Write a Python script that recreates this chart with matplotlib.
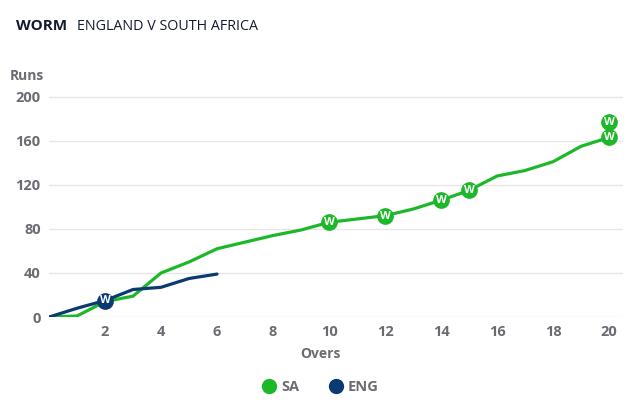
import numpy as np
import matplotlib.pyplot as plt
from matplotlib.lines import Line2D

plt.rcParams['font.family'] = ['Open Sans', 'DejaVu Sans']

overs_sa = list(range(0, 21))
runs_sa = [0, 1, 14, 19, 40, 50, 62, 68, 74, 79, 86, 89, 92, 98, 106, 115, 128, 133, 141, 155, 163]
overs_eng = [0, 1, 2, 3, 4, 5, 6]
runs_eng = [0, 8, 15, 25, 27, 35, 39]

wkt_sa_overs = [10, 12, 14, 15, 20, 20]
wkt_sa_runs = [86, 92, 106, 115, 163, 177]
wkt_eng_overs = [2]
wkt_eng_runs = [15]

green = '#1db82a'
navy = '#0b3a73'
grey = '#6b6b73'

fig = plt.figure(figsize=(6.4, 4.07), dpi=100)
ax = fig.add_axes([0.0766, 0.221, 0.897, 0.555])

ax.plot(overs_sa, runs_sa, color=green, lw=2.3, solid_capstyle='round', zorder=3)
ax.plot(overs_eng, runs_eng, color=navy, lw=2.3, solid_capstyle='round', zorder=4)

for xs, ys, c in [(wkt_sa_overs, wkt_sa_runs, green), (wkt_eng_overs, wkt_eng_runs, navy)]:
    ax.scatter(xs, ys, s=145, color=c, linewidth=0, zorder=5, clip_on=False)
    for x, y in zip(xs, ys):
        ax.text(x, y - 0.3, 'W', color='white', fontsize=8, fontweight='bold',
                ha='center', va='center', zorder=6)

ax.set_xlim(0, 20.5)
ax.set_ylim(0, 205)
ax.set_xticks([2, 4, 6, 8, 10, 12, 14, 16, 18, 20])
ax.set_yticks([0, 40, 80, 120, 160, 200])
ax.grid(axis='y', color='#e6e6e9', lw=1)
ax.set_axisbelow(True)
for s in ax.spines.values():
    s.set_visible(False)
ax.tick_params(length=0, labelsize=10.5, labelcolor=grey, pad=6)
for lbl in ax.get_xticklabels() + ax.get_yticklabels():
    lbl.set_fontweight('bold')

fig.text(320 / 640, 1 - 354 / 407, 'Overs', ha='center', va='center', fontsize=10,
         fontweight='bold', color=grey)
fig.text(27 / 640, 1 - 76 / 407, 'Runs', ha='center', va='center', fontsize=10,
         fontweight='bold', color=grey)

fig.text(16 / 640, 1 - 26 / 407, 'WORM', ha='left', va='center', fontsize=11,
         fontweight='bold', color='#141a2e')
fig.text(77 / 640, 1 - 26 / 407, 'ENGLAND V SOUTH AFRICA', ha='left', va='center',
         fontsize=10.3, color='#141a2e')

handles = [Line2D([], [], ls='', marker='o', ms=10, color=green),
           Line2D([], [], ls='', marker='o', ms=10, color=navy)]
leg = fig.legend(handles, ['SA', 'ENG'], loc='center', bbox_to_anchor=(0.5, 1 - 387 / 407),
                 ncol=2, frameon=False, handletextpad=0.3, columnspacing=2.0,
                 handlelength=1.0, prop={'size': 10.5, 'weight': 'bold'})
for t in leg.get_texts():
    t.set_color(grey)

fig.savefig('out.png', dpi=100)
